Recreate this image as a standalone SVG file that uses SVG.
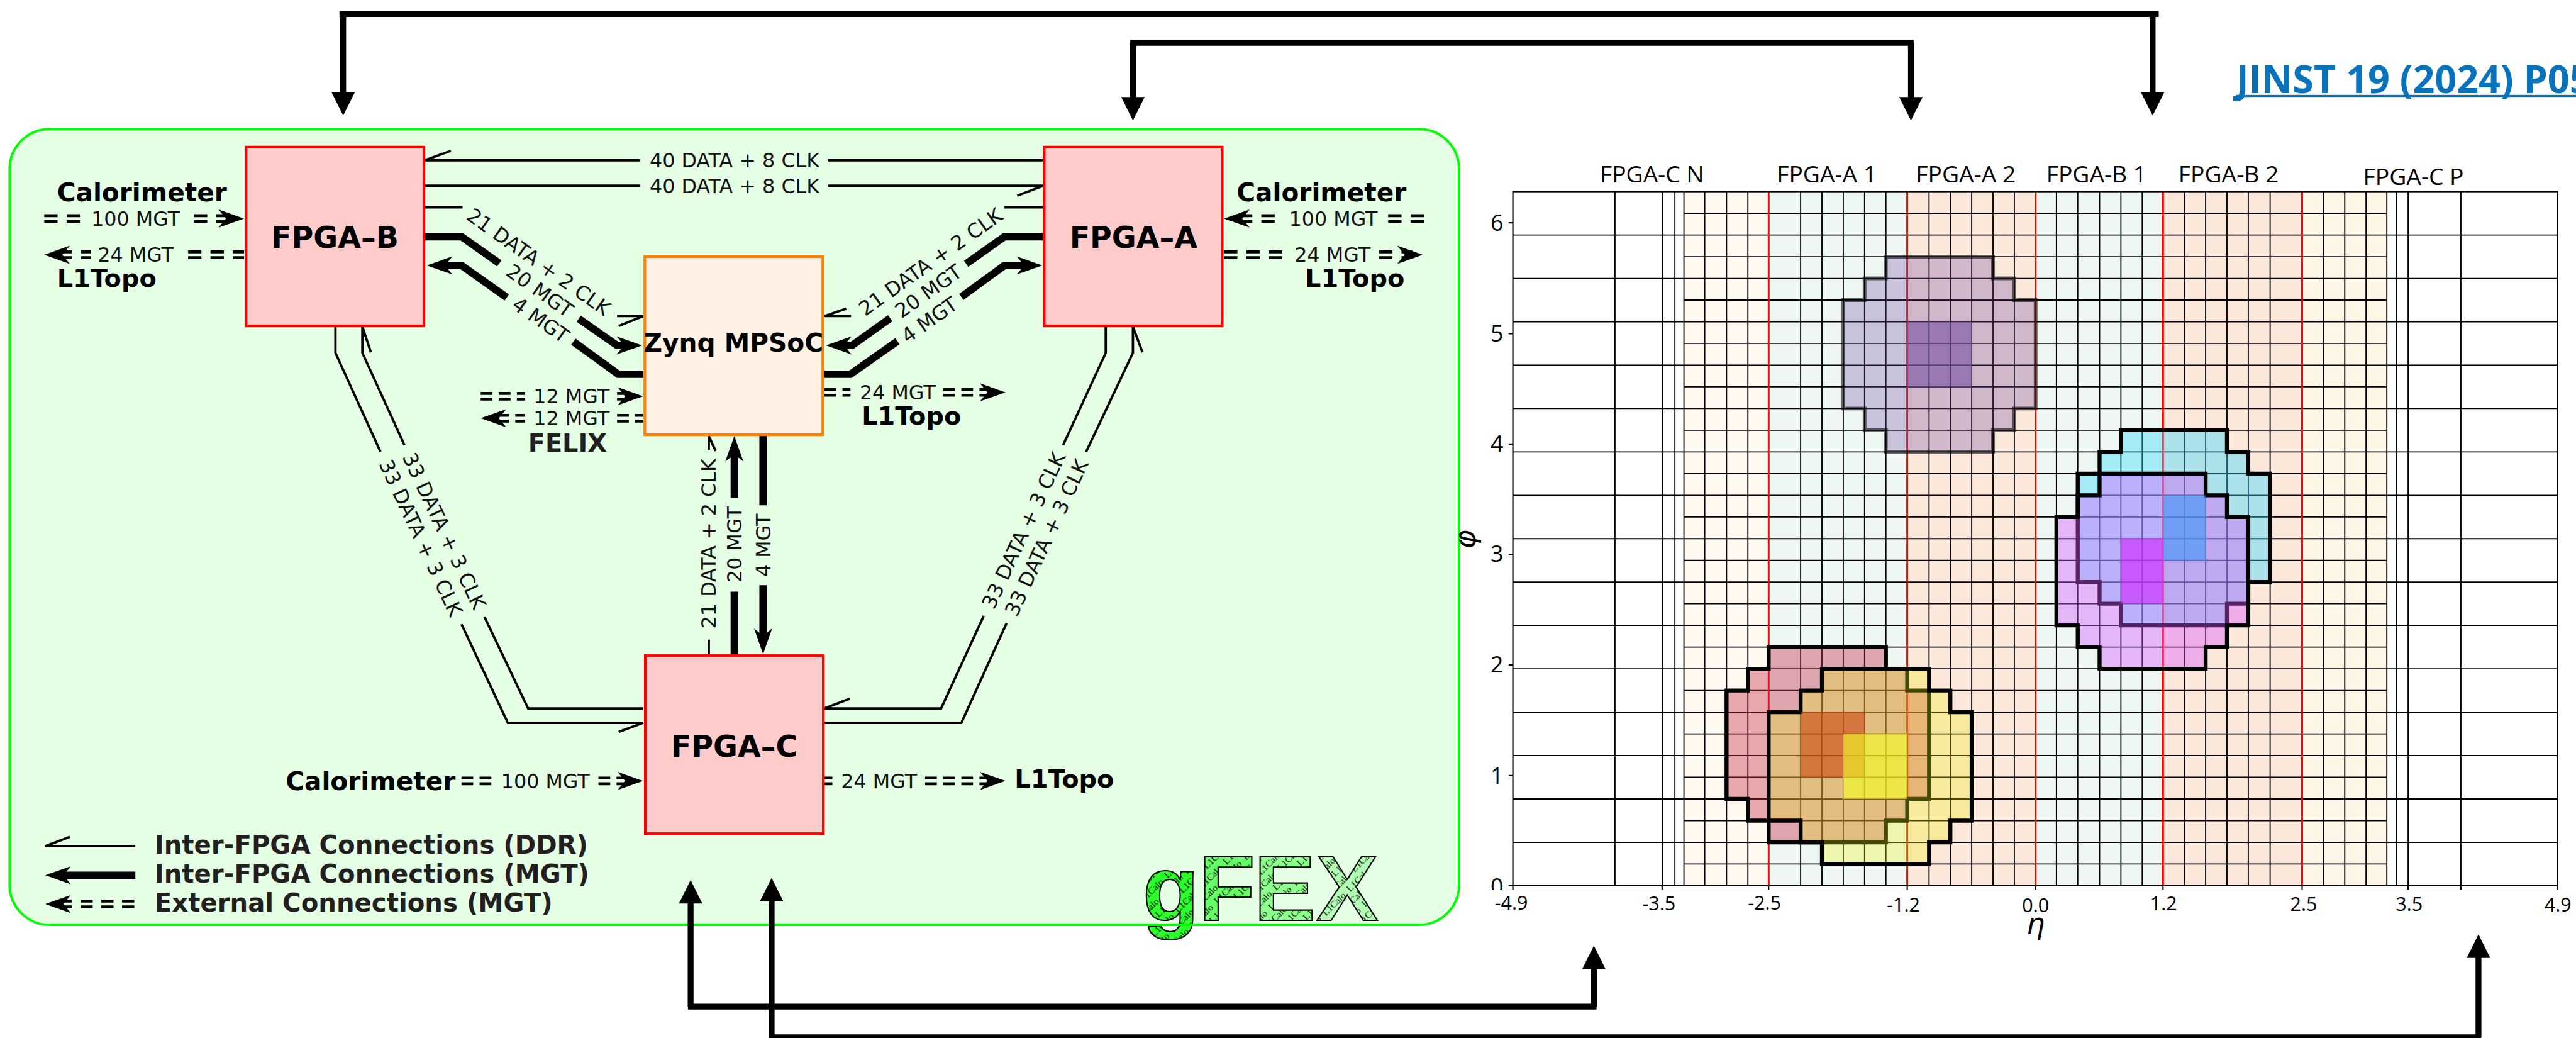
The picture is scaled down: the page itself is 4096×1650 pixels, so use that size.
<svg xmlns="http://www.w3.org/2000/svg" width="4096" height="1650" viewBox="0 0 4096 1650">
<style>
text{font-family:"DejaVu Sans",sans-serif;fill:#000}
.m{font-size:37.5px;text-anchor:middle;fill:#111}
.b{font-size:48px;font-weight:bold}
.lt{font-size:47px;font-weight:bold}
.nd{font-size:56px;font-weight:bold;text-anchor:middle}
.lg{font-size:47.5px;font-weight:bold;fill:#231f20}
.p{font-family:"Open Sans",sans-serif;font-size:44px;text-anchor:middle}
.yt{font-family:"Open Sans",sans-serif;font-size:42px;text-anchor:end}
.xt{font-family:"Open Sans",sans-serif;font-size:36px;text-anchor:middle}
.gf{font-family:"Liberation Sans",Arial,sans-serif;font-size:174px;font-weight:bold;stroke:#000;stroke-width:2.5px}
.cal{font-family:"Liberation Serif",serif;font-size:18px}
.thin{fill:none;stroke:#000;stroke-width:4.5}
.thick{fill:none;stroke:#000;stroke-width:14}
.ext{fill:none;stroke:#000;stroke-width:11}
.dd{fill:none;stroke:#000;stroke-width:5.5;stroke-dasharray:25 17}
.d2{fill:none;stroke:#000;stroke-width:5.5;stroke-dasharray:22 12}
.d3{fill:none;stroke:#000;stroke-width:5.5;stroke-dasharray:23 16}
.fp{fill:#ffcccc;stroke:#f00;stroke-width:5}
.gl{fill:none;stroke:#000;stroke-width:2.2}
.blob{stroke:#000;stroke-width:7.5;stroke-linejoin:miter}
</style>
<defs>
<path id="ah" d="M0,0L-48,-17L-34,0L-48,17Z"/>
<path id="tri" d="M0,0L-44,-22L-44,22Z"/>
<g id="caltile" class="cal"><text class="cal" x="-32" y="15">L1Calo</text><text class="cal" x="32" y="15">L1Calo</text><text class="cal" x="0" y="35">L1Calo</text></g>
<pattern id="pg" width="64" height="40" patternUnits="userSpaceOnUse" patternTransform="rotate(-45)"><rect width="64" height="40" fill="#2dff2d"/><use href="#caltile"/></pattern>
<pattern id="pf" width="64" height="40" patternUnits="userSpaceOnUse" patternTransform="rotate(-45)"><rect width="64" height="40" fill="#66ff66"/><use href="#caltile"/></pattern>
<pattern id="pe" width="64" height="40" patternUnits="userSpaceOnUse" patternTransform="rotate(-45)"><rect width="64" height="40" fill="#8cff8c"/><use href="#caltile"/></pattern>
<pattern id="px" width="64" height="40" patternUnits="userSpaceOnUse" patternTransform="rotate(-45)"><rect width="64" height="40" fill="#b3ffb3"/><use href="#caltile"/></pattern>
<clipPath id="zc"><rect x="2780" y="1630" width="50" height="40"/></clipPath>
</defs>
<rect width="4096" height="1650" fill="#fff"/>
<g transform="scale(0.84733)">

<g id="panel">
<rect x="18" y="242" width="2720" height="1493" rx="75" ry="75" fill="#e5ffe5"/>
<g id="gfex-logo">
<text class="gf" x="2144" y="1727" style="fill:url(#pg)">g</text>
<text class="gf" x="2249" y="1727" style="fill:url(#pf)">F</text>
<text class="gf" x="2353" y="1727" style="fill:url(#pe)">E</text>
<text class="gf" x="2470" y="1727" style="fill:url(#px)">X</text>
</g>
<rect x="18" y="242" width="2720" height="1493" rx="75" ry="75" fill="none" stroke="#00ff00" stroke-width="4.5"/>
</g>

<g id="connectors">
<path class="thin" d="M797,300.7H1201M1554,300.7H1958M797,300.7L846,283"/>
<path class="thin" d="M797,348.4H1201M1554,348.4H1958L1909,367"/>
<path class="thin" d="M797,389H868M1158,593H1207L1161,611.6"/>
<path class="thin" d="M1885,389H1958M1597,593H1547L1588,579"/>
<path class="thin" d="M629.5,612V662L714,847.5M866,1171L953,1356H1207L1161,1373"/>
<path class="thin" d="M696,661L680,613V662L759,835M909,1157L991,1329H1207"/>
<path class="thin" d="M2075,612V662L1995,835M1846,1155.5L1766,1329H1547L1595,1310.6"/>
<path class="thin" d="M2144,661L2126,613V662L2038,848M1889,1169L1804,1356H1547"/>
<path class="thin" d="M1330,1228V1200M1330,844V818L1343,846"/>

<path class="thick" d="M797,444H866L937,494M1086,598L1158,648H1180"/><use href="#ah" transform="translate(1205,648)"/>
<path class="thick" d="M825,498H866L951,558M1076,641L1160,702H1207"/><use href="#ah" transform="translate(801,498) rotate(180)"/>
<path class="thick" d="M1958,444H1885L1813,495M1670.5,597L1599,648H1575"/><use href="#ah" transform="translate(1550,648) rotate(180)"/>
<path class="thick" d="M1547,702H1596L1684,640M1804,557L1885,498H1930"/><use href="#ah" transform="translate(1956,498)"/>
<path class="thick" d="M1378,1228V1110M1378,934V845"/><use href="#ah" transform="translate(1378,818) rotate(-90)"/>
<path class="thick" d="M1432,817V948M1432,1098V1200"/><use href="#ah" transform="translate(1432,1227) rotate(90)"/>

<path class="dd" d="M83,404.6H150M83,415.4H150M364,404.6H433M364,415.4H433"/><use href="#ah" transform="translate(458,410)"/>
<path class="dd" d="M110,472.6H170M110,483.4H170M353,472.6H458M353,483.4H458"/><use href="#ah" transform="translate(83,478) rotate(180)"/>
<path class="dd" d="M2325,404.6H2392M2325,415.4H2392M2605,404.6H2672M2605,415.4H2672"/><use href="#ah" transform="translate(2297,410) rotate(180)"/>
<path class="dd" d="M2297,472.6H2406M2297,483.4H2406M2588,472.6H2650M2588,483.4H2650"/><use href="#ah" transform="translate(2670,478)"/>
<path class="d2" d="M902,738H985M902,748.8H985M1158,738H1190M1158,748.8H1190"/><use href="#ah" transform="translate(1207,743.4)"/>
<path class="d2" d="M933,779.2H985M933,790H985M1158,779.2H1207M1158,790H1207"/><use href="#ah" transform="translate(902,784.6) rotate(180)"/>
<path class="d2" d="M1547,730.6H1596M1547,741.4H1596M1770,730.6H1865M1770,741.4H1865"/><use href="#ah" transform="translate(1887,736)"/>
<path class="d2" d="M866,1459.6H925M866,1470.4H925M1123,1459.6H1180M1123,1470.4H1180"/><use href="#ah" transform="translate(1207,1465)"/>
<path class="d2" d="M1547,1459.6H1562M1547,1470.4H1562M1736,1459.6H1862M1736,1470.4H1862"/><use href="#ah" transform="translate(1887,1465)"/>

<path class="ext" d="M637,26.5H4051M644,26.5V180M4039.5,26.5V180"/><use href="#tri" transform="translate(644,217) rotate(90)"/><use href="#tri" transform="translate(4039.5,217) rotate(90)"/>
<path class="ext" d="M2121,80.5H3591M2126,80.5V190M3586,80.5V190"/><use href="#tri" transform="translate(2126,226) rotate(90)"/><use href="#tri" transform="translate(3586,226) rotate(90)"/>
<path class="ext" d="M1291,1888.5H2996M1296,1888.5V1690M2991,1888.5V1815"/><use href="#tri" transform="translate(1296,1651) rotate(-90)"/><use href="#tri" transform="translate(2991,1774) rotate(-90)"/>
<path class="ext" d="M1443,1946H4656M1448,1946V1685M4651,1946V1795"/><use href="#tri" transform="translate(1448,1647) rotate(-90)"/><use href="#tri" transform="translate(4651,1753) rotate(-90)"/>
</g>

<g id="connector-labels">
<text class="m" x="1378.5" y="314">40 DATA + 8 CLK</text>
<text class="m" x="1378.5" y="362">40 DATA + 8 CLK</text>
<text class="m" y="13.5" transform="translate(1011,491) rotate(35.2)">21 DATA + 2 CLK</text>
<text class="m" y="13.5" transform="translate(1013,545) rotate(35.2)">20 MGT</text>
<text class="m" y="13.5" transform="translate(1015,600) rotate(35.2)">4 MGT</text>
<text class="m" y="13.5" transform="translate(1746,491) rotate(-35.2)">21 DATA + 2 CLK</text>
<text class="m" y="13.5" transform="translate(1742,546) rotate(-35.2)">20 MGT</text>
<text class="m" y="13.5" transform="translate(1744,600) rotate(-35.2)">4 MGT</text>
<text class="m" y="13.5" transform="translate(1329.5,1020) rotate(-90)">21 DATA + 2 CLK</text>
<text class="m" y="13.5" transform="translate(1378,1021.5) rotate(-90)">20 MGT</text>
<text class="m" y="13.5" transform="translate(1432,1023) rotate(-90)">4 MGT</text>
<text class="m" y="13.5" transform="translate(790,1009) rotate(65)">33 DATA + 3 CLK</text>
<text class="m" y="13.5" transform="translate(834,996) rotate(65)">33 DATA + 3 CLK</text>
<text class="m" y="13.5" transform="translate(1920.5,995) rotate(-65)">33 DATA + 3 CLK</text>
<text class="m" y="13.5" transform="translate(1963.5,1008.5) rotate(-65)">33 DATA + 3 CLK</text>
<text class="m" x="254.5" y="424">100 MGT</text>
<text class="m" x="254.5" y="491.5">24 MGT</text>
<text class="m" x="2502" y="424">100 MGT</text>
<text class="m" x="2500.5" y="491.5">24 MGT</text>
<text class="m" x="1072.5" y="756.5">12 MGT</text>
<text class="m" x="1072.5" y="797.5">12 MGT</text>
<text class="m" x="1684.5" y="750">24 MGT</text>
<text class="m" x="1023.5" y="1478.6">100 MGT</text>
<text class="m" x="1649.5" y="1478.6">24 MGT</text>
<text class="b" x="107" y="378">Calorimeter</text>
<text class="lt" x="107" y="538">L1Topo</text>
<text class="b" x="2320.5" y="378">Calorimeter</text>
<text class="lt" x="2449" y="538">L1Topo</text>
<text class="lt" x="991" y="847.5" style="fill:#231f20">FELIX</text>
<text class="lt" x="1617" y="797">L1Topo</text>
<text class="b" x="536" y="1482">Calorimeter</text>
<text class="lt" x="1904" y="1477">L1Topo</text>
</g>

<g id="fpga-b"><rect class="fp" x="461.5" y="276" width="334" height="335.5"/><text class="nd" x="628.5" y="465">FPGA–B</text></g>
<g id="fpga-a"><rect class="fp" x="1959.5" y="276" width="334" height="335.5"/><text class="nd" x="2127" y="465">FPGA–A</text></g>
<g id="fpga-c"><rect class="fp" x="1211" y="1230" width="334" height="334"/><text class="nd" x="1378" y="1419.5">FPGA–C</text></g>
<g id="zynq"><rect x="1210" y="481.5" width="334" height="334" fill="#fff2e5" stroke="#ff8000" stroke-width="5"/><text x="1376.5" y="660" style="font-size:48px;font-weight:bold;text-anchor:middle">Zynq MPSoC</text></g>

<g id="legend">
<path class="thin" d="M85,1587.5H254M85,1587.5L131,1570"/>
<path class="thick" d="M120,1642H254"/><use href="#ah" transform="translate(85,1642) rotate(180)"/>
<path class="d3" d="M112,1690.6H254M112,1701.4H254"/><use href="#ah" transform="translate(85,1696) rotate(180)"/>
<text class="lg" x="290" y="1601">Inter-FPGA Connections (DDR)</text>
<text class="lg" x="290" y="1655.5">Inter-FPGA Connections (MGT)</text>
<text class="lg" x="290" y="1710">External Connections (MGT)</text>
</g>

<g id="plot">
<rect x="3160" y="359.5" width="159" height="1302" fill="#fff9ef"/>
<rect x="3319" y="359.5" width="260" height="1302" fill="#eff7f3"/>
<rect x="3579" y="359.5" width="241" height="1302" fill="#fce7db"/>
<rect x="3820" y="359.5" width="239" height="1302" fill="#eff7f3"/>
<rect x="4059" y="359.5" width="261" height="1302" fill="#fce7db"/>
<rect x="4320" y="359.5" width="159" height="1302" fill="#fff6e8"/>
<path class="gl" d="M3030.6,359.5V1661.6M3120,359.5V1661.6M3143,359.5V1661.6M3160,359.5V1661.6M3199,359.5V1661.6M3240,359.5V1661.6M3280,359.5V1661.6M3379,359.5V1661.6M3419,359.5V1661.6M3459,359.5V1661.6M3499,359.5V1661.6M3539,359.5V1661.6M3620,359.5V1661.6M3660,359.5V1661.6M3700,359.5V1661.6M3740,359.5V1661.6M3780,359.5V1661.6M3859,359.5V1661.6M3899,359.5V1661.6M3940,359.5V1661.6M3980,359.5V1661.6M4020,359.5V1661.6M4099,359.5V1661.6M4139,359.5V1661.6M4179,359.5V1661.6M4219,359.5V1661.6M4260,359.5V1661.6M4360,359.5V1661.6M4400,359.5V1661.6M4440,359.5V1661.6M4479,359.5V1661.6M4497,359.5V1661.6M4519,359.5V1661.6M4618,359.5V1661.6"/>
<path class="gl" d="M2839,440.9H4799M2839,522.3H4799M2839,603.6H4799M2839,685H4799M2839,766.4H4799M2839,847.8H4799M2839,929.2H4799M2839,1010.5H4799M2839,1091.9H4799M2839,1173.3H4799M2839,1254.7H4799M2839,1336.1H4799M2839,1417.4H4799M2839,1498.8H4799M2839,1580.2H4799"/>
<path class="gl" d="M3160,400.2H4479M3160,481.6H4479M3160,562.9H4479M3160,644.3H4479M3160,725.7H4479M3160,807.1H4479M3160,888.5H4479M3160,969.9H4479M3160,1051.2H4479M3160,1132.6H4479M3160,1214H4479M3160,1295.4H4479M3160,1376.8H4479M3160,1458.1H4479M3160,1539.5H4479M3160,1620.9H4479"/>
<path d="M3319,359.5V1661.6M3579,359.5V1661.6M3820,359.5V1661.6M4059,359.5V1661.6M4320,359.5V1661.6" fill="none" stroke="#f00" stroke-width="3.5"/>
<rect x="2839" y="359.5" width="1960.4" height="1302" fill="none" stroke="#000" stroke-width="2.5"/>

<path d="M3539,481.6H3740V522.3H3780V562.9H3820V766.4H3780V807.1H3740V847.8H3539V807.1H3499V766.4H3459V562.9H3499V522.3H3539Z" fill="#704da6" fill-opacity=".3" stroke="#000" stroke-opacity=".58" stroke-width="7"/>
<rect x="3579" y="603.6" width="121" height="122.1" fill="#754da0" fill-opacity=".6"/>

<path class="blob" d="M3980,807.1H4179V847.8H4219V888.5H4260V1091.9H4219V1132.6H4179V1173.3H3980V1132.6H3940V1091.9H3899V888.5H3940V847.8H3980Z" fill="#37d9ff" fill-opacity=".4"/>
<path class="blob" d="M3940,888.5H4139V929.2H4179V969.9H4219V1173.3H4179V1214H4139V1254.7H3940V1214H3899V1173.3H3859V969.9H3899V929.2H3940Z" fill="#d957ff" fill-opacity=".4"/>
<rect x="3980" y="1010.5" width="79" height="122.1" fill="#d221ff" fill-opacity=".6"/>
<rect x="4059" y="929.2" width="80" height="122" fill="#3e96f7" fill-opacity=".6"/>

<path class="blob" d="M3319,1214H3539V1254.7H3579V1295.4H3620V1498.8H3579V1539.5H3539V1580.2H3319V1539.5H3280V1498.8H3240V1295.4H3280V1254.7H3319Z" fill="#c62e48" fill-opacity=".4"/>
<path class="blob" d="M3419,1254.7H3620V1295.4H3660V1336.1H3700V1539.5H3660V1580.2H3620V1620.9H3419V1580.2H3379V1539.5H3319V1336.1H3379V1295.4H3419Z" fill="#ecf314" fill-opacity=".3"/>
<rect x="3379" y="1336.1" width="120" height="122" fill="#cb4814" fill-opacity=".6"/>
<rect x="3459" y="1376.8" width="120" height="122" fill="#f1ff23" fill-opacity=".6"/>

<path fill="none" stroke="#000" stroke-width="2.5" d="M2831,418H2839M2831,626H2839M2831,833H2839M2831,1040H2839M2831,1247.5H2839M2831,1455H2839M2831,1661.5H2839M2839,1661V1669M3119,1661V1669M3319,1661V1669M3579,1661V1669M3820,1661V1669M4059,1661V1669M4320,1661V1669M4519,1661V1669M4618,1661V1669M4799,1661V1669"/>

<text class="p" x="3100" y="342.5">FPGA-C N</text>
<text class="p" x="3428" y="342.5">FPGA-A 1</text>
<text class="p" x="3689" y="342.5">FPGA-A 2</text>
<text class="p" x="3934" y="342.5">FPGA-B 1</text>
<text class="p" x="4182" y="342.5">FPGA-B 2</text>
<text class="p" x="4529" y="347">FPGA-C P</text>

<text class="yt" x="2821" y="433">6</text>
<text class="yt" x="2821" y="640.7">5</text>
<text class="yt" x="2821" y="847">4</text>
<text class="yt" x="2821" y="1054">3</text>
<text class="yt" x="2821" y="1262">2</text>
<text class="yt" x="2821" y="1470">1</text>
<text class="yt" x="2821" y="1678" clip-path="url(#zc)">0</text>

<text class="xt" x="2836" y="1706">-4.9</text>
<text class="xt" x="3113" y="1708">-3.5</text>
<text class="xt" x="3311" y="1707">-2.5</text>
<text class="xt" x="3572" y="1710">-1.2</text>
<text class="xt" x="3820" y="1711">0.0</text>
<text class="xt" x="4060" y="1708">1.2</text>
<text class="xt" x="4323" y="1709">2.5</text>
<text class="xt" x="4521" y="1709">3.5</text>
<text class="xt" x="4800" y="1710">4.9</text>

<text x="3820" y="1751" style="font-size:54px;font-style:italic;text-anchor:middle">η</text>
<text y="14" transform="translate(2753,1012) rotate(-90)" style="font-size:54px;font-style:italic;text-anchor:middle">φ</text>
</g>

<g id="citation">
<text x="4196" y="175" style="font-family:'Open Sans',sans-serif;font-size:72px;font-weight:bold;fill:#0873bb">JINST 19 (2024) P05</text>
<rect x="4196" y="178" width="640" height="4" fill="#0873bb"/>
</g>
</g>
</svg>
